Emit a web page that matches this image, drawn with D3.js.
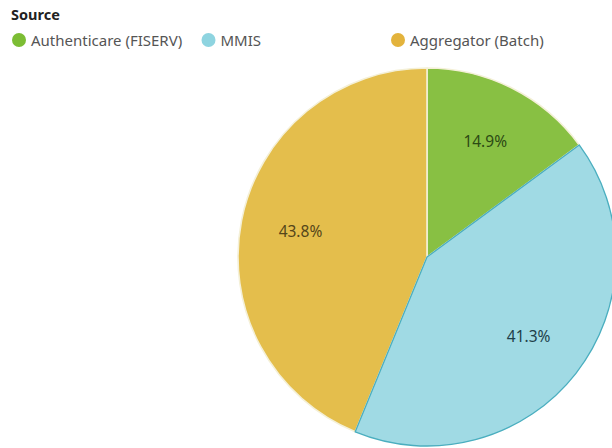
<!DOCTYPE html>
<html><head><meta charset="utf-8">
<script src="https://cdn.jsdelivr.net/npm/d3@7"></script>
<style>html,body{margin:0;padding:0;background:#fff;overflow:hidden}</style>
</head><body>
<svg id="chart" width="612" height="448"></svg>
<script>
const categories = ["Authenticare (FISERV)", "MMIS", "Aggregator (Batch)"];
const values = [14.9, 41.3, 43.8];
const sliceColors = ["#88c043", "#a0dae4", "#e4be4c"];
const legendColors = ["#7cbd34", "#8ed4e0", "#e3b33c"];
const labelColors = ["#2c4a14", "#1e3e4a", "#55461a"];
const strokeColors = ["#f4f0d8", "#4aaebf", "#f4f0d8"];

const svg = d3.select("#chart");
const font = "'Noto Sans', 'Open Sans', sans-serif";

svg.append("text").attr("x", 11).attr("y", 20)
  .attr("font-family", font).attr("font-weight", "bold").attr("font-size", 14.5)
  .attr("fill", "#222").text("Source");

const legendX = [19, 208.5, 398];
const lg = svg.append("g");
categories.forEach((c, i) => {
  lg.append("circle").attr("cx", legendX[i]).attr("cy", 40).attr("r", 7).attr("fill", legendColors[i]);
  lg.append("text").attr("x", legendX[i] + 12).attr("y", 45.5)
    .attr("font-family", font).attr("font-size", 15).attr("fill", "#555").text(c);
});

const cx = 427, cy = 257, r = 189;
const pie = d3.pie().sort(null).value(d => d)(values);
const arc = d3.arc().innerRadius(0).outerRadius(r);
const labelArc = d3.arc().innerRadius(129).outerRadius(129);
const g = svg.append("g").attr("transform", `translate(${cx},${cy})`);
const order = [0, 2, 1];
order.forEach(i => {
  g.append("path").attr("d", arc(pie[i])).attr("fill", sliceColors[i])
    .attr("stroke", strokeColors[i]).attr("stroke-width", i === 1 ? 1.3 : 1.6)
    .attr("stroke-linejoin", "round");
});
pie.forEach((p, i) => {
  const [x, y] = labelArc.centroid(p);
  g.append("text").attr("x", x).attr("y", y).attr("dy", "0.35em")
    .attr("text-anchor", "middle").attr("font-family", font).attr("font-size", 15.5)
    .attr("fill", labelColors[i]).text(values[i].toFixed(1) + "%");
});
</script>
</body></html>
